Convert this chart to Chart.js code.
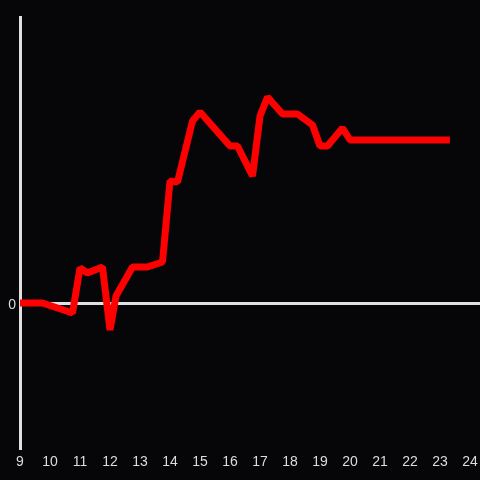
<!DOCTYPE html>
<html>
<head>
<meta charset="utf-8">
<script src="https://cdn.jsdelivr.net/npm/chart.js@4"></script>
<style>
  html, body { margin: 0; padding: 0; background: #060508; }
  canvas { display: block; }
</style>
</head>
<body>
<canvas id="myChart" width="480" height="480"></canvas>
<script>
// hours of the day and values
const hours = [9, 9.75, 10.75, 11, 11.25, 11.75, 12, 12.2, 12.75, 13.25, 13.75, 14, 14.25, 14.75, 15,
  16, 16.25, 16.75, 17, 17.25, 17.75, 18.25, 18.75, 19, 19.25, 19.75, 20, 23.33];
const values = [0, 0, -10, 35, 30, 36, -27, 7, 36, 36, 41, 122, 121, 182, 191,
  157, 157, 127, 187, 206, 189, 189, 178, 157, 157, 175, 163, 163];
const xTicks = [9, 10, 11, 12, 13, 14, 15, 16, 17, 18, 19, 20, 21, 22, 23, 24];
const yTicks = [0];

const ctx = document.getElementById("myChart").getContext("2d");

new Chart(ctx, {
  type: "line",
  data: {
    datasets: [{
      data: hours.map((h, i) => ({ x: h, y: values[i] })),
      borderColor: "#ff0000",
      borderWidth: 7,
      borderJoinStyle: "bevel",
      tension: 0,
      pointRadius: 0,
      fill: false
    }]
  },
  options: {
    responsive: false,
    animation: false,
    layout: { padding: { top: 17 } },
    plugins: { legend: { display: false }, tooltip: { enabled: false } },
    scales: {
      x: {
        type: "linear",
        min: 9,
        max: 24.333,
        afterBuildTicks: (axis) => { axis.ticks = xTicks.map(v => ({ value: v })); },
        afterFit: (axis) => {
          axis.height = 32;
          // let the last label sit near the edge without shrinking the plot
          axis.paddingLeft = 0;
          axis.paddingRight = 0;
        },
        grid: { display: false, drawTicks: false },
        border: { display: false },
        ticks: { color: "#dddddd", font: { size: 14 }, padding: 6, maxRotation: 0, autoSkip: false }
      },
      y: {
        min: -145,
        max: 286,
        afterBuildTicks: (axis) => { axis.ticks = yTicks.map(v => ({ value: v })); },
        afterFit: (axis) => { axis.width = 20; },
        grid: { color: "#e0e0e0", lineWidth: 3, drawTicks: false },
        border: { display: true, color: "#e0e0e0", width: 3 },
        ticks: { color: "#dddddd", font: { size: 14 }, padding: 4, labelOffset: 2 }
      }
    }
  }
});
</script>
</body>
</html>
